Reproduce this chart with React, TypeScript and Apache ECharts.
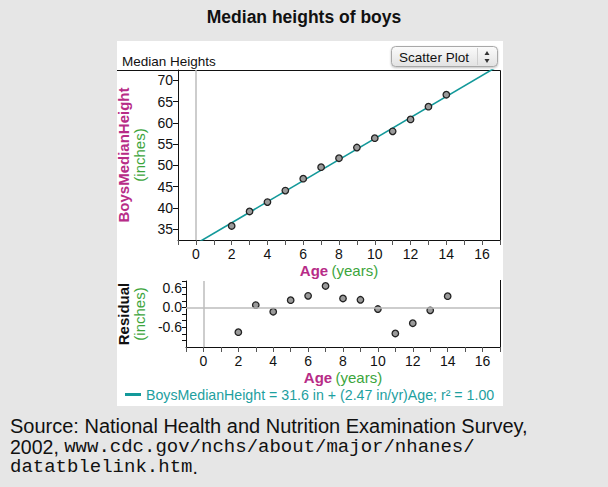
import React, { useEffect, useRef } from "react";
import * as echarts from "echarts";

const ages = [2, 3, 4, 5, 6, 7, 8, 9, 10, 11, 12, 13, 14];
const heights = [35.8, 39.2, 41.4, 44.1, 46.9, 49.6, 51.7, 54.2, 56.4, 58.0, 60.8, 63.8, 66.6];
const residuals = [-0.75, 0.07, -0.13, 0.22, 0.35, 0.65, 0.27, 0.23, -0.05, -0.79, -0.48, -0.09, 0.34];

const fitIntercept = 31.6;
const fitSlope = 2.47;

const xTickValues = [-1, 0, 1, 2, 3, 4, 5, 6, 7, 8, 9, 10, 11, 12, 13, 14, 15, 16, 17];
const xLabelValues = [0, 2, 4, 6, 8, 10, 12, 14, 16];
const yLabelValues = [35, 40, 45, 50, 55, 60, 65, 70];
const residLabelValues = [0.6, 0.0, -0.6];
const residTickValues = [-1.0, -0.8, -0.6, -0.4, -0.2, 0.0, 0.2, 0.4, 0.6, 0.8];

const FONT = "'Liberation Sans', Arial, Helvetica, sans-serif";
const MONO = "'Liberation Mono', 'DejaVu Sans Mono', monospace";
const TEAL = "#13999a";
const MAGENTA = "#b72c87";
const GREEN = "#3ca53c";

export default function App() {
  const ref = useRef<HTMLDivElement>(null);

  useEffect(() => {
    if (!ref.current) return;
    const chart = echarts.init(ref.current, undefined, { renderer: "svg" });

    const fitLine = [xTickValues[0], xTickValues[xTickValues.length - 1]].map((x) => [
      x,
      fitIntercept + fitSlope * x,
    ]);

    const axisLabelStyle = { color: "#111", fontSize: 14, fontFamily: FONT };
    const xName = {
      name: "{a|Age} {b|(years)}",
      nameLocation: "middle",
      nameGap: 23,
      nameTextStyle: {
        rich: {
          a: { fontWeight: "bold", color: MAGENTA, fontSize: 15, fontFamily: FONT },
          b: { color: GREEN, fontSize: 15, fontFamily: FONT },
        },
      },
    };

    const option: any = {
      animation: false,
      backgroundColor: "#e6e6e6",
      textStyle: { fontFamily: FONT },
      grid: [
        { left: 178, top: 70, width: 322, height: 170 },
        { left: 186, top: 281, width: 314, height: 66 },
      ],
      xAxis: [
        {
          gridIndex: 0,
          type: "value",
          min: -1,
          max: 17,
          splitLine: { show: false },
          axisLine: { show: true, onZero: false, lineStyle: { color: "#111", width: 1 } },
          axisTick: { show: true, customValues: xTickValues, length: 5, lineStyle: { color: "#555" } },
          axisLabel: { ...axisLabelStyle, customValues: xLabelValues, margin: 7 },
          ...xName,
        },
        {
          gridIndex: 1,
          type: "value",
          min: -1,
          max: 17,
          splitLine: { show: false },
          axisLine: { show: true, onZero: false, lineStyle: { color: "#111", width: 1 } },
          axisTick: { show: true, customValues: xTickValues, length: 5, lineStyle: { color: "#555" } },
          axisLabel: { ...axisLabelStyle, customValues: xLabelValues, margin: 7 },
          ...xName,
        },
      ],
      yAxis: [
        {
          gridIndex: 0,
          type: "value",
          min: 32.5,
          max: 72.4,
          splitLine: { show: false },
          axisLine: { show: true, onZero: false, lineStyle: { color: "#111", width: 1 } },
          axisTick: { show: true, customValues: yLabelValues, length: 5, lineStyle: { color: "#111" } },
          axisLabel: { ...axisLabelStyle, customValues: yLabelValues, margin: 5 },
          name: "{a|BoysMedianHeight}\n{b|(inches)}",
          nameLocation: "middle",
          nameRotate: 90,
          nameGap: 25,
          nameTextStyle: {
            rich: {
              a: { fontWeight: "bold", color: MAGENTA, fontSize: 15, fontFamily: FONT, lineHeight: 16 },
              b: { color: GREEN, fontSize: 15, fontFamily: FONT, lineHeight: 16 },
            },
          },
        },
        {
          gridIndex: 1,
          type: "value",
          min: -1.2,
          max: 0.8,
          splitLine: { show: false },
          axisLine: { show: true, onZero: false, lineStyle: { color: "#111", width: 1 } },
          axisTick: { show: true, customValues: residTickValues, length: 4, lineStyle: { color: "#111" } },
          axisLabel: {
            ...axisLabelStyle,
            customValues: residLabelValues,
            margin: 4,
            formatter: (v: number) => v.toFixed(1),
          },
          name: "{a|Residual}\n{b|(inches)}",
          nameLocation: "middle",
          nameRotate: 90,
          nameGap: 35,
          nameTextStyle: {
            rich: {
              a: { fontWeight: "bold", color: "#111", fontSize: 15, fontFamily: FONT, lineHeight: 16 },
              b: { color: GREEN, fontSize: 15, fontFamily: FONT, lineHeight: 16 },
            },
          },
        },
      ],
      series: [
        {
          type: "line",
          xAxisIndex: 0,
          yAxisIndex: 0,
          data: fitLine,
          showSymbol: false,
          symbol: "none",
          clip: true,
          lineStyle: { color: TEAL, width: 1.6 },
          silent: true,
          z: 3,
          markLine: {
            silent: true,
            symbol: "none",
            label: { show: false },
            lineStyle: { color: "#bdbdbd", type: "solid", width: 1.5 },
            data: [{ xAxis: 0 }],
          },
        },
        {
          type: "scatter",
          xAxisIndex: 0,
          yAxisIndex: 0,
          data: ages.map((a, i) => [a, heights[i]]),
          symbol: "circle",
          symbolSize: 6.5,
          itemStyle: { color: "#9a9a9a", borderColor: "#222", borderWidth: 1.3, opacity: 1 },
          z: 4,
        },
        {
          type: "scatter",
          xAxisIndex: 1,
          yAxisIndex: 1,
          data: ages.map((a, i) => [a, residuals[i]]),
          symbol: "circle",
          symbolSize: 6.5,
          itemStyle: { color: "#9a9a9a", borderColor: "#222", borderWidth: 1.3, opacity: 1 },
          z: 4,
          markLine: {
            silent: true,
            symbol: "none",
            label: { show: false },
            lineStyle: { color: "#bdbdbd", type: "solid", width: 1.5 },
            data: [{ xAxis: 0 }, { yAxis: 0 }],
          },
        },
      ],
      graphic: [
        {
          type: "rect",
          shape: { x: 117, y: 41, width: 386, height: 365 },
          style: { fill: "#ffffff" },
          z: -10,
          silent: true,
        },
        {
          type: "text",
          x: 304,
          y: 17,
          style: {
            text: "Median heights of boys",
            fontFamily: FONT,
            fontSize: 17.5,
            fontWeight: "bold",
            fill: "#111",
            align: "center",
            verticalAlign: "middle",
          },
        },
        {
          type: "text",
          x: 122,
          y: 61,
          style: {
            text: "Median Heights",
            fontFamily: FONT,
            fontSize: 13.5,
            fill: "#111",
            align: "left",
            verticalAlign: "middle",
          },
        },
        // dropdown button
        {
          type: "rect",
          shape: { x: 391.5, y: 46.5, width: 106, height: 20, r: 4 },
          style: {
            fill: new echarts.graphic.LinearGradient(0, 0, 0, 1, [
              { offset: 0, color: "#fbfbfb" },
              { offset: 1, color: "#e2e2e2" },
            ]),
            stroke: "#a8a8a8",
            lineWidth: 1,
            shadowBlur: 2,
            shadowColor: "rgba(0,0,0,0.25)",
            shadowOffsetY: 1,
          },
        },
        {
          type: "text",
          x: 434,
          y: 57,
          style: {
            text: "Scatter Plot",
            fontFamily: FONT,
            fontSize: 13.5,
            fill: "#111",
            align: "center",
            verticalAlign: "middle",
          },
        },
        {
          type: "line",
          shape: { x1: 477.5, y1: 48, x2: 477.5, y2: 65 },
          style: { stroke: "#cfcfcf", lineWidth: 1 },
        },
        {
          type: "polygon",
          shape: { points: [[484.5, 55], [489.5, 55], [487, 51]] },
          style: { fill: "#333" },
        },
        {
          type: "polygon",
          shape: { points: [[484.5, 59], [489.5, 59], [487, 63]] },
          style: { fill: "#333" },
        },
        // frame lines
        {
          type: "line",
          shape: { x1: 117, y1: 70.5, x2: 500.5, y2: 70.5 },
          style: { stroke: "#111", lineWidth: 1 },
        },
        {
          type: "line",
          shape: { x1: 500.5, y1: 70.5, x2: 500.5, y2: 240 },
          style: { stroke: "#111", lineWidth: 1 },
        },
        {
          type: "line",
          shape: { x1: 500.5, y1: 280, x2: 500.5, y2: 347 },
          style: { stroke: "#111", lineWidth: 1 },
        },
        // legend
        {
          type: "line",
          shape: { x1: 125, y1: 394.5, x2: 141, y2: 394.5 },
          style: { stroke: TEAL, lineWidth: 3 },
        },
        {
          type: "text",
          x: 146,
          y: 395,
          style: {
            text: "BoysMedianHeight = 31.6 in + (2.47 in/yr)Age; r² = 1.00",
            fontFamily: FONT,
            fontSize: 14.2,
            fill: "#1ea0a0",
            align: "left",
            verticalAlign: "middle",
          },
        },
        // source
        {
          type: "text",
          x: 10,
          y: 426,
          style: {
            text: "Source: National Health and Nutrition Examination Survey,",
            fontFamily: FONT,
            fontSize: 20,
            fill: "#111",
            align: "left",
            verticalAlign: "middle",
          },
        },
        {
          type: "text",
          x: 10,
          y: 447,
          style: {
            text: "{s|2002, }{m|www.cdc.gov/nchs/about/major/nhanes/}",
            align: "left",
            verticalAlign: "middle",
            rich: {
              s: { fontFamily: FONT, fontSize: 19.5, fill: "#111" },
              m: { fontFamily: MONO, fontSize: 19, fill: "#111" },
            },
          },
        },
        {
          type: "text",
          x: 10,
          y: 467,
          style: {
            text: "{m|datatblelink.htm}{s|.}",
            align: "left",
            verticalAlign: "middle",
            rich: {
              s: { fontFamily: FONT, fontSize: 19.5, fill: "#111" },
              m: { fontFamily: MONO, fontSize: 19, fill: "#111" },
            },
          },
        },
      ],
    };

    chart.setOption(option);
    return () => chart.dispose();
  }, []);

  return (
    <div
      ref={ref}
      style={{ position: "fixed", left: 0, top: 0, width: 608, height: 487 }}
    />
  );
}
